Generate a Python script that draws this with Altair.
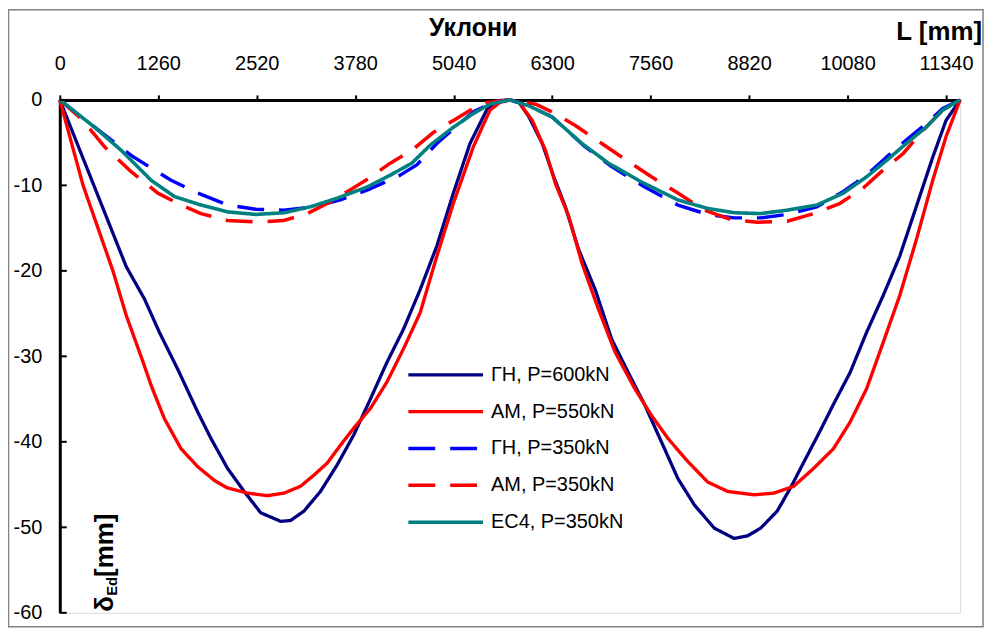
import altair as alt
import pandas as pd

# ---------------- data ----------------
names = ["ГН, P=600kN", "АМ, P=550kN", "ГН, P=350kN", "АМ, P=350kN", "EC4, P=350kN"]
colors = ["#000080", "#FF0000", "#0000FF", "#FF0000", "#008080"]
dashes = [[1, 0], [1, 0], [27, 15], [27, 15], [1, 0]]
widths = [3.3, 3.6, 4.5, 4.5, 3.6]

x_ticks = [0, 1260, 2520, 3780, 5040, 6300, 7560, 8820, 10080, 11340]
y_ticks = [0, -10, -20, -30, -40, -50, -60]

x_gn600 = [0, 850, 1084, 1275, 1509, 1764, 1934, 2146, 2359, 2571, 2826, 2954, 3124, 3336, 3549,
           3761, 3974, 4186, 4399, 4611, 4824, 5036, 5249, 5461, 5589, 5760, 5877, 6004, 6173,
           6321, 6469, 6639, 6851, 7062, 7274, 7486, 7698, 7909, 8121, 8375, 8629, 8799, 8968,
           9180, 9349, 9519, 9730, 9900, 10112, 10323, 10535, 10747, 10959, 11170, 11340, 11520]
y_gn600 = [0, -19.5, -23.3, -27.2, -31.5, -36.5, -39.6, -43.1, -45.8, -48.3, -49.3, -49.2, -48.1,
           -45.8, -42.7, -39.2, -35.0, -30.7, -26.8, -22.2, -17.1, -10.9, -5.1, -1.2, -0.1, 0,
           -0.3, -2.0, -5.1, -9.0, -12.5, -17.5, -22.2, -28.0, -31.9, -35.7, -40.0, -44.3, -47.4,
           -50.1, -51.3, -51.0, -50.1, -48.1, -45.4, -42.4, -38.7, -35.6, -31.9, -27.2, -22.9,
           -18.3, -12.5, -6.7, -2.4, 0]

x_am550 = [0, 298, 680, 850, 1063, 1169, 1339, 1551, 1764, 1976, 2146, 2401, 2656, 2869, 3081,
           3251, 3421, 3591, 3761, 3974, 4186, 4399, 4611, 4824, 5036, 5291, 5504, 5631, 5760,
           5877, 6046, 6215, 6342, 6512, 6681, 6893, 7105, 7359, 7570, 7782, 8036, 8290, 8545,
           8883, 9137, 9392, 9646, 9900, 10112, 10323, 10535, 10747, 10959, 11170, 11340, 11520]
y_am550 = [0, -10, -20, -25.2, -30.6, -33.4, -37.3, -40.8, -42.9, -44.5, -45.4, -46.0, -46.3,
           -46.0, -45.2, -43.9, -42.5, -40.4, -38.4, -36.1, -33.0, -29.1, -24.9, -18.3, -12.1,
           -5.5, -1.2, -0.3, 0, -0.3, -2.4, -5.9, -9.8, -13.6, -19.1, -24.5, -29.5, -33.8,
           -36.9, -39.6, -42.3, -44.7, -45.8, -46.2, -46.0, -45.2, -43.1, -40.8, -37.7, -33.8,
           -28.4, -22.9, -16.4, -9.4, -4.3, 0]

x_gn350 = [0, 276, 574, 914, 1211, 1424, 1764, 2146, 2508, 2869, 3251, 3591, 3974, 4356, 4569,
           4824, 5036, 5291, 5546, 5760, 6004, 6300, 6724, 7062, 7486, 7909, 8290, 8629, 8968,
           9307, 9688, 10027, 10323, 10577, 10831, 11085, 11297, 11520]
y_gn350 = [0, -2.0, -4.1, -6.5, -8.2, -9.4, -10.9, -12.3, -12.8, -12.9, -12.5, -11.7, -10.4, -8.8,
           -7.6, -5.1, -3.4, -1.4, -0.3, 0, -0.7, -2.0, -5.5, -7.8, -10.2, -12.3, -13.4, -13.8,
           -13.8, -13.4, -12.5, -10.7, -8.8, -6.7, -4.7, -2.8, -1.0, 0]

x_am350 = [0, 276, 574, 914, 1254, 1551, 1806, 2146, 2529, 2869, 3166, 3464, 3719, 3931, 4229,
           4505, 4781, 5036, 5291, 5461, 5760, 6088, 6342, 6596, 6935, 7274, 7570, 7909, 8248,
           8587, 8926, 9307, 9646, 9985, 10281, 10535, 10789, 11043, 11297, 11520]
y_am350 = [0, -2.2, -5.5, -8.4, -10.9, -12.3, -13.3, -14.1, -14.3, -14.1, -13.3, -11.9, -10.5,
           -9.3, -7.4, -5.9, -3.8, -2.4, -1.0, -0.3, 0, -0.5, -1.6, -3.0, -5.1, -7.2, -9.0,
           -10.9, -12.9, -14.0, -14.3, -14.2, -13.3, -12.1, -10.3, -8.2, -6.3, -3.6, -1.2, 0]

x_ec4 = [0, 446, 786, 1169, 1466, 1806, 2146, 2508, 2869, 3209, 3549, 3931, 4229, 4505, 4739,
         5036, 5291, 5504, 5760, 6004, 6300, 6681, 7020, 7443, 7909, 8290, 8629, 8968, 9307,
         9688, 10027, 10323, 10577, 10831, 11085, 11297, 11520]
y_ec4 = [0, -3.2, -5.9, -9.4, -11.3, -12.3, -13.1, -13.4, -13.2, -12.5, -11.5, -10.2, -8.8, -7.4,
         -5.3, -3.2, -1.6, -0.5, 0, -0.7, -2.0, -5.1, -7.4, -9.6, -11.7, -12.7, -13.2, -13.3,
         -12.9, -12.3, -10.9, -9.0, -7.1, -5.1, -3.2, -1.2, 0]

series = [(names[0], x_gn600, y_gn600), (names[1], x_am550, y_am550),
          (names[2], x_gn350, y_gn350), (names[3], x_am350, y_am350),
          (names[4], x_ec4, y_ec4)]

rows = []
for nm, xs, ys in series:
    for xv, yv in zip(xs, ys):
        rows.append({"s": nm, "x": xv, "y": yv})
df = pd.DataFrame(rows)

FONT = "Liberation Sans"

x_enc = alt.X("x:Q",
              scale=alt.Scale(domain=[0, 11520], nice=False, zero=False),
              axis=alt.Axis(orient="top", values=x_ticks, title=None, grid=False,
                            domainColor="black", domainWidth=3, tickColor="black",
                            tickWidth=2, tickSize=5, labelFontSize=20, labelFont=FONT,
                            labelColor="black", labelPadding=22, format="d",
                            labelFlush=False, labelOverlap=False))
y_enc = alt.Y("y:Q",
              scale=alt.Scale(domain=[-60, 0], nice=False),
              axis=alt.Axis(values=y_ticks, title=None, grid=False, ticks=False, tickSize=0,
                            domainColor="black", domainWidth=3, labelFontSize=20,
                            labelFont=FONT, labelColor="black", labelPadding=18,
                            labelExpr="'' + datum.value", labelFlush=False,
                            labelOverlap=False))

legend = alt.Legend(orient="none", legendX=348, legendY=264, title=None,
                    symbolType="stroke", symbolSize=5625, symbolStrokeWidth=4,
                    labelFontSize=20, labelFont=FONT, labelColor="black",
                    labelOffset=6, padding=0, clipHeight=24, rowPadding=13,
                    labelLimit=300)

base = alt.Chart(df).mark_line(strokeCap="butt", strokeJoin="round").encode(
    x=x_enc, y=y_enc,
    color=alt.Color("s:N", scale=alt.Scale(domain=names, range=colors), legend=legend),
    strokeDash=alt.StrokeDash("s:N", scale=alt.Scale(domain=names, range=dashes), legend=legend),
    strokeWidth=alt.StrokeWidth("s:N", scale=alt.Scale(domain=names, range=widths), legend=legend),
)
lines = [base.transform_filter(alt.datum.s == nm) for nm in names]

# inward ticks of the value axis
tick_df = pd.DataFrame({"y": y_ticks})
yticks = alt.Chart(tick_df).mark_rule(color="black", strokeWidth=2).encode(
    y="y:Q", x=alt.value(0), x2=alt.value(7))

def label(text, x, y, size, align="center", angle=0, baseline="alphabetic"):
    return alt.Chart(pd.DataFrame({"t": [text]})).mark_text(
        font=FONT, fontSize=size, fontWeight="bold", color="black",
        align=align, baseline=baseline, angle=angle).encode(
        x=alt.value(x), y=alt.value(y), text="t:N")

title = label("Уклони", 415, -64, 25)
xtitle = label("L [mm]", 926, -60, 26, align="right")
yt1 = label("δ", 53, 514, 26, align="left", angle=270)
yt2 = label("Ed", 57, 498, 15, align="left", angle=270)
yt3 = label("[mm]", 53, 479, 26, align="left", angle=270)

border = alt.Chart(pd.DataFrame({"a": [0]})).mark_rect(
    fillOpacity=0, stroke="#808080", strokeWidth=1.5).encode(
    x=alt.value(-51.5), x2=alt.value(927), y=alt.value(-90.5), y2=alt.value(529))

chart = alt.layer(border, *lines, yticks, title, xtitle, yt1, yt2, yt3).properties(
    width=904, height=515,
    padding={"left": 52, "top": 91, "right": 26, "bottom": 16},
    autosize=alt.AutoSizeParams(type="none"),
).configure_view(stroke=None).configure(background="white")

chart.save("out.html", embed_options={"renderer": "svg", "actions": False})
